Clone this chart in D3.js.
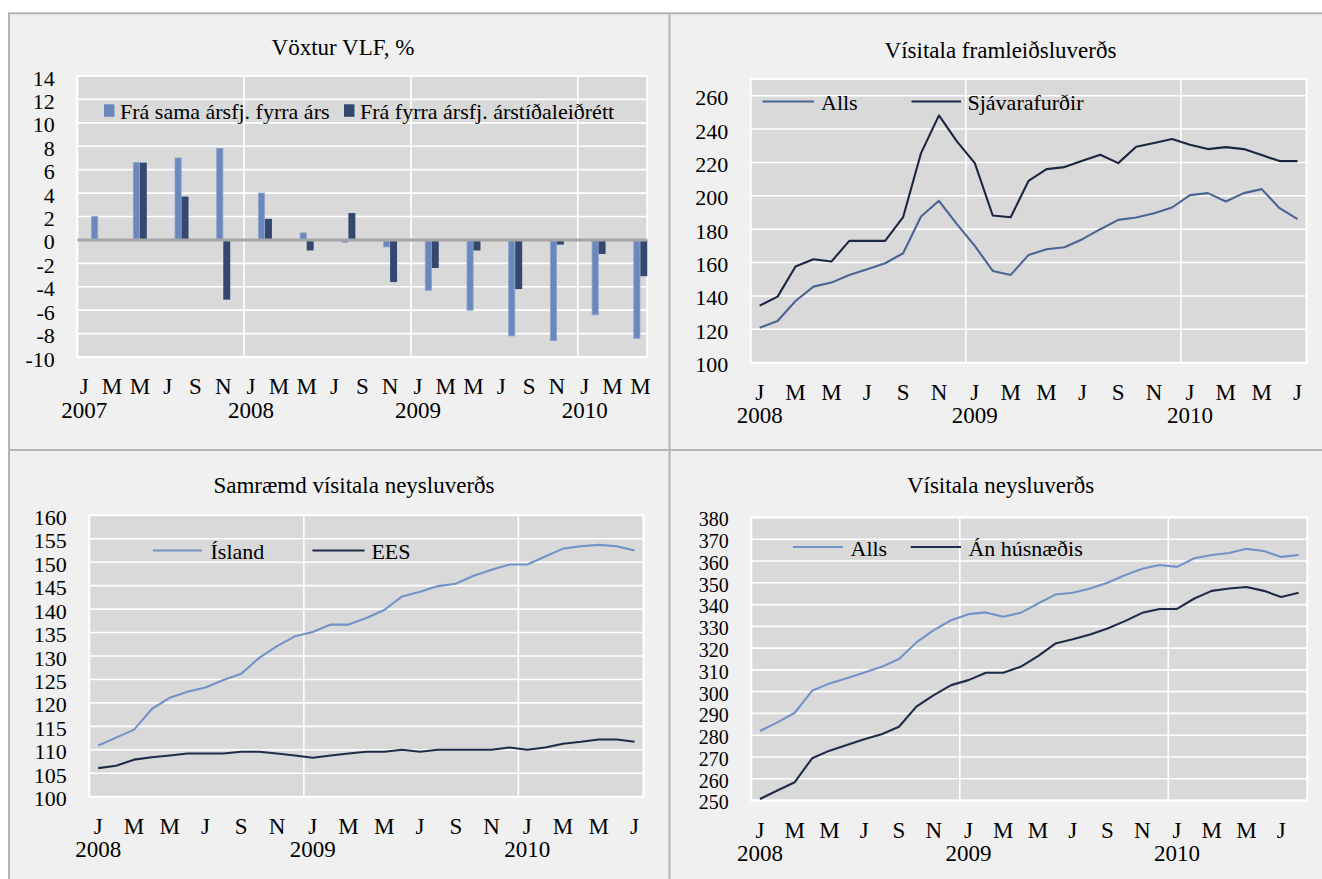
<!DOCTYPE html>
<html><head><meta charset="utf-8">
<script src="https://cdn.jsdelivr.net/npm/d3@7"></script>
<style>
html,body{margin:0;padding:0;background:#fff;}
svg{display:block;}
text{font-family:"Liberation Serif","Times New Roman",serif;fill:#000;}
</style></head><body>
<svg id="c" width="1322" height="879"></svg>
<script>
// ---------------- DATA ----------------
const monthTickLetters = ["J","M","M","J","S","N"]; // Jan, Mar, May, Jul, Sep, Nov
// Panel 1: Vöxtur VLF, % (quarterly, drawn at mid-quarter month)
const vlfQuarters = ["2007Q1","2007Q2","2007Q3","2007Q4","2008Q1","2008Q2","2008Q3","2008Q4","2009Q1","2009Q2","2009Q3","2009Q4","2010Q1","2010Q2"];
const vlfSama  = [2.0, 6.6, 7.0, 7.8, 4.0, 0.6, -0.2, -0.6, -4.3, -6.0, -8.2, -8.6, -6.4, -8.4];
const vlfFyrra = [null, 6.6, 3.7, -5.1, 1.8, -0.9, 2.3, -3.6, -2.4, -0.9, -4.2, -0.4, -1.2, -3.1];
const vlfTicks = [-10,-8,-6,-4,-2,0,2,4,6,8,10,12,14];
// Panel 2: Vísitala framleiðsluverðs (monthly Jan 2008 – Jul 2010)
const fvAlls = [121,125,137,145.6,148,152.6,156,159.6,165.6,187.6,197,183,170,155,152.6,164.6,168,169.2,174,180,185.6,187,189.6,193,200.4,201.6,196.6,201.6,204,192.6,186];
const fvSjav = [134.2,139.6,157.6,162,160.6,173,173,173,187.2,225.6,248.2,232.6,219.6,188.2,187.2,209,216,217.2,221,224.6,219.6,229.4,231.6,234,230.6,228,229.2,228,224.4,220.8,220.8];
const fvTicks = [100,120,140,160,180,200,220,240,260];
// Panel 3: Samræmd vísitala neysluverðs (monthly Jan 2008 – Jul 2010)
const svIsland = [110.9,112.6,114.3,118.7,121.1,122.4,123.3,124.9,126.2,129.6,132.1,134.2,135.1,136.7,136.7,138.1,139.8,142.7,143.7,144.9,145.4,147.1,148.4,149.5,149.5,151.2,152.9,153.4,153.7,153.4,152.5];
const svEES = [106.1,106.6,107.9,108.4,108.8,109.2,109.2,109.2,109.6,109.6,109.2,108.8,108.3,108.8,109.2,109.6,109.6,110.0,109.6,110.0,110.0,110.0,110.0,110.5,110.0,110.5,111.3,111.7,112.2,112.2,111.7];
const svTicks = [100,105,110,115,120,125,130,135,140,145,150,155,160];
// Panel 4: Vísitala neysluverðs (monthly Jan 2008 – Aug 2010)
const vnAlls = [281.9,285.9,290.3,300.4,303.8,306.2,308.8,311.4,315,322.6,328.3,332.8,335.6,336.4,334.4,336.2,340.5,344.6,345.4,347.4,350,353.5,356.5,358.2,357.3,361.3,362.8,363.7,365.6,364.6,361.9,362.8];
const vnAn = [250.7,254.6,258.4,269.4,272.9,275.5,278.1,280.4,283.9,293.1,298.4,303,305.3,308.7,308.7,311.4,316.3,322.1,324.1,326.3,329,332.4,336.2,338,338,342.8,346.3,347.4,348.1,346.3,343.5,345.4];
const vnTicks = [250,260,270,280,290,300,310,320,330,340,350,360,370,380];

// categories: months
function monthsFrom(year, count){
  const out=[];
  for(let i=0;i<count;i++){ out.push({y: year+Math.floor(i/12), m: i%12, key: (year+Math.floor(i/12))+"-"+(i%12+1)}); }
  return out;
}

// ---------------- DRAW ----------------
const FONT = '"Liberation Serif","Times New Roman",serif';
const svg = d3.select("#c");
const C = {
  frame:"#b4b4b4", panelBg:"#f0f0f0", plotBg:"#d9d9d9", grid:"#ffffff",
  lightBar:"#6a88bb", lightBarEdge:"#8aa3cd", darkBar:"#33476f", zero:"#a5a5a5",
  fvAlls:"#4a6494", fvSjav:"#1b2641", light:"#7293c8", dark:"#1f2c48"
};

// frame & panels
svg.append("rect").attr("x",9).attr("y",13.3).attr("width",1400).attr("height",1000)
  .attr("fill",C.panelBg).attr("stroke",C.frame).attr("stroke-width",2);
svg.append("line").attr("x1",669.5).attr("x2",669.5).attr("y1",13.3).attr("y2",879)
  .attr("stroke",C.frame).attr("stroke-width",2);
svg.append("line").attr("x1",9).attr("x2",1322).attr("y1",450).attr("y2",450)
  .attr("stroke",C.frame).attr("stroke-width",2);

function panel(cfg){
  const g = svg.append("g");
  const months = monthsFrom(cfg.startYear, cfg.nMonths);
  const x = d3.scaleBand().domain(months.map(d=>d.key)).range([cfg.x0,cfg.x1]).padding(0);
  const y = d3.scaleLinear().domain(cfg.yDomain).range([cfg.y1,cfg.y0]);
  const bw = x.bandwidth();

  // title
  g.append("text").attr("x",cfg.titleX).attr("y",cfg.titleY).attr("text-anchor","middle")
    .style("font-size","23px").text(cfg.title);

  // plot background
  g.append("rect").attr("x",cfg.x0).attr("y",cfg.y0).attr("width",cfg.x1-cfg.x0).attr("height",cfg.y1-cfg.y0)
    .attr("fill",C.plotBg);
  // horizontal gridlines
  g.selectAll(".hg").data(cfg.ticks).enter().append("line")
    .attr("x1",cfg.x0).attr("x2",cfg.x1).attr("y1",d=>y(d)).attr("y2",d=>y(d))
    .attr("stroke",C.grid).attr("stroke-width",1.6);
  // vertical gridlines at year starts
  const jans = months.filter(d=>d.m===0 && d.y!==cfg.startYear);
  g.selectAll(".vg").data(jans).enter().append("line")
    .attr("x1",d=>x(d.key)).attr("x2",d=>x(d.key)).attr("y1",cfg.y0).attr("y2",cfg.y1)
    .attr("stroke",C.grid).attr("stroke-width",1.6);
  // plot border
  g.append("rect").attr("x",cfg.x0).attr("y",cfg.y0).attr("width",cfg.x1-cfg.x0).attr("height",cfg.y1-cfg.y0)
    .attr("fill","none").attr("stroke",C.grid).attr("stroke-width",2);

  // y axis labels (hyphen-minus as in the reference)
  const ya = d3.axisLeft(y).tickValues(cfg.ticks).tickSize(0).tickPadding(22.5).tickFormat(d=>String(d));
  const yg = g.append("g").attr("transform",`translate(${cfg.x0},2)`).call(ya);
  yg.select(".domain").remove();
  yg.selectAll("text").style("font-size",(cfg.yFont||22)+"px").style("font-family",FONT).attr("fill","#000");

  // x axis month letters
  const tickMonths = months.filter(d=>d.m%2===0);
  const xa = d3.axisBottom(x).tickValues(tickMonths.map(d=>d.key)).tickSize(0).tickPadding(20.7)
    .tickFormat(k=>{ const d=months.find(mm=>mm.key===k); return monthTickLetters[d.m/2]; });
  const xg = g.append("g").attr("transform",`translate(0,${cfg.y1})`).call(xa);
  xg.select(".domain").remove();
  xg.selectAll("text").style("font-size","23px").style("font-family",FONT).attr("fill","#000");
  // year labels
  const yearMonths = months.filter(d=>d.m===0);
  const xa2 = d3.axisBottom(x).tickValues(yearMonths.map(d=>d.key)).tickSize(0).tickPadding(44.2)
    .tickFormat(k=>k.split("-")[0]);
  const xg2 = g.append("g").attr("transform",`translate(0,${cfg.y1})`).call(xa2);
  xg2.select(".domain").remove();
  xg2.selectAll("text").style("font-size","23px").style("font-family",FONT).attr("fill","#000");

  cfg.draw(g, x, y, bw, months);
}

// legend helpers
function legendLine(g, x1, x2, yy, color, tx, label){
  g.append("line").attr("x1",x1).attr("x2",x2).attr("y1",yy).attr("y2",yy).attr("stroke",color).attr("stroke-width",2);
  g.append("text").attr("x",tx).attr("y",yy+8.5).style("font-size","22px").text(label);
}
function legendBox(g, bx, by, color, tx, label){
  g.append("rect").attr("x",bx).attr("y",by).attr("width",10.5).attr("height",12.5).attr("fill",color);
  g.append("text").attr("x",tx).attr("y",by+14.8).style("font-size","22px").text(label);
}
function drawLine(g, x, y, bw, months, vals, color){
  const line = d3.line().x((d,i)=>x(months[i].key)+bw/2).y(d=>y(d));
  g.append("path").datum(vals).attr("d",line).attr("fill","none").attr("stroke",color)
    .attr("stroke-width",2.1).attr("stroke-linejoin","round");
}

// Panel 1
panel({
  title:"Vöxtur VLF, %", titleX:343, titleY:54.5,
  startYear:2007, nMonths:41, x0:77.3, x1:647.3, y0:76, y1:357,
  yDomain:[-10,14], ticks:vlfTicks,
  draw:(g,x,y,bw,months)=>{
    const qMonth = q => months[3*q+1].key; // mid-quarter month
    g.append("g").selectAll("rect").data(vlfSama).enter().append("rect")
      .attr("x",(d,i)=>x(qMonth(i))+0.4).attr("width",bw/2-0.8)
      .attr("y",d=>Math.min(y(d),y(0))).attr("height",d=>Math.abs(y(d)-y(0)))
      .attr("fill",C.lightBar).attr("stroke",C.lightBarEdge).attr("stroke-width",0.8);
    g.append("g").selectAll("rect").data(vlfFyrra.map((v,i)=>({v,i})).filter(d=>d.v!==null)).enter().append("rect")
      .attr("x",d=>x(qMonth(d.i))+bw/2).attr("width",bw/2)
      .attr("y",d=>Math.min(y(d.v),y(0))).attr("height",d=>Math.abs(y(d.v)-y(0)))
      .attr("fill",C.darkBar);
    g.append("line").attr("x1",77.3).attr("x2",647.3).attr("y1",y(0)).attr("y2",y(0))
      .attr("stroke",C.zero).attr("stroke-width",3);
    legendBox(g,104,104.3,C.lightBar,120,"Frá sama ársfj. fyrra árs");
    legendBox(g,344,104.3,C.darkBar,360,"Frá fyrra ársfj. árstíðaleiðrétt");
  }
});

// Panel 2
panel({
  title:"Vísitala framleiðsluverðs", titleX:1000.5, titleY:57.5,
  startYear:2008, nMonths:31, x0:750.7, x1:1306.5, y0:79, y1:362.7,
  yDomain:[100,270], ticks:fvTicks,
  draw:(g,x,y,bw,months)=>{
    drawLine(g,x,y,bw,months,fvAlls,C.fvAlls);
    drawLine(g,x,y,bw,months,fvSjav,C.fvSjav);
    legendLine(g,762.5,814,101.5,C.fvAlls,821,"Alls");
    legendLine(g,911.5,961,101.5,C.fvSjav,967.5,"Sjávarafurðir");
  }
});

// Panel 3
panel({
  title:"Samræmd vísitala neysluverðs", titleX:354, titleY:492.5,
  startYear:2008, nMonths:31, x0:89.3, x1:643.5, y0:515.3, y1:796.7,
  yDomain:[100,160], ticks:svTicks,
  draw:(g,x,y,bw,months)=>{
    drawLine(g,x,y,bw,months,svIsland,C.light);
    drawLine(g,x,y,bw,months,svEES,C.dark);
    legendLine(g,152.8,202,550.5,C.light,210.5,"Ísland");
    legendLine(g,312.4,364.6,550.5,C.dark,371.4,"EES");
  }
});

// Panel 4
panel({
  title:"Vísitala neysluverðs", titleX:1000.5, titleY:492.5,
  startYear:2008, nMonths:32, x0:751.3, x1:1307.3, y0:517.5, y1:800.5,
  yDomain:[250,380], ticks:vnTicks, yFont:20,
  draw:(g,x,y,bw,months)=>{
    drawLine(g,x,y,bw,months,vnAlls,C.light);
    drawLine(g,x,y,bw,months,vnAn,C.dark);
    legendLine(g,792.8,843,547,C.light,850.5,"Alls");
    legendLine(g,910.7,961,547,C.dark,968.4,"Án húsnæðis");
  }
});
</script>
</body></html>
